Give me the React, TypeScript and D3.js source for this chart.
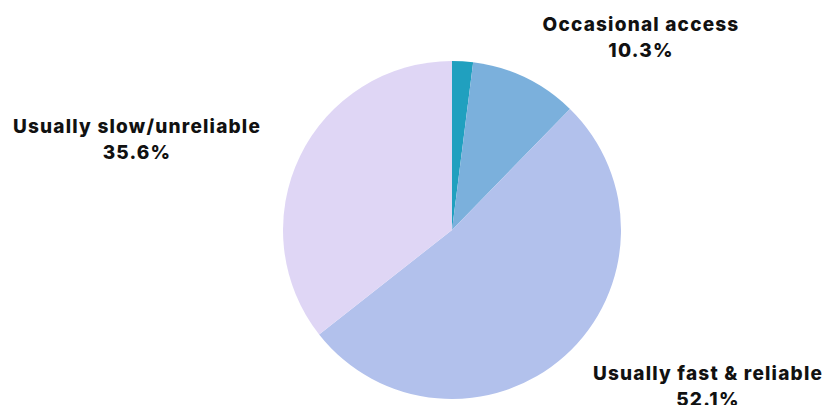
import React from "react";
import * as d3 from "d3";

const categories = ["Other", "Occasional access", "Usually fast & reliable", "Usually slow/unreliable"];
const values = [2.0, 10.3, 52.1, 35.6];
const colors = ["#20a0bf", "#7bb0dc", "#b2c1ec", "#dfd6f5"];
const showLabel = [false, true, true, true];

const W = 838, H = 405;
const cx = 452, cy = 230, r = 169;

export default function App() {
  const data = categories.map((c, i) => ({ c, v: values[i], i }));
  const pie = d3.pie<any>().value((d) => d.v).sort(null);
  const arcs = pie(data);
  const arc = d3.arc<any>().innerRadius(0).outerRadius(r);
  const labelPos: Record<number, [number, number]> = {
    1: [641, 31],
    2: [708, 380],
    3: [137, 133],
  };
  return (
    <svg width={W} height={H} style={{ position: "absolute", left: 0, top: 0 }}>
      <g transform={`translate(${cx},${cy})`}>
        {arcs.map((a, i) => (
          <path key={i} d={arc(a) || ""} fill={colors[i]} />
        ))}
      </g>
      {arcs.map((a, i) => {
        if (!showLabel[i]) return null;
        const [x, y] = labelPos[i];
        return (
          <text key={i} x={x} y={y} textAnchor="middle" fontFamily="Inter, sans-serif" fontWeight={800} fontSize={19} letterSpacing={1.2} fill="#111">
            <tspan x={x}>{categories[i]}</tspan>
            <tspan x={x} dy={26}>{d3.format(".1f")(values[i])}%</tspan>
          </text>
        );
      })}
    </svg>
  );
}
